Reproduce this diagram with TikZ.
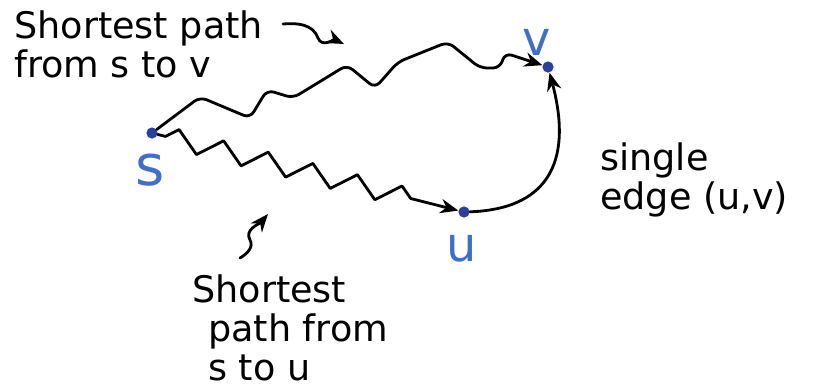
\documentclass[tikz,border=0pt]{standalone}
\usepackage{fontspec}
\setmainfont{DejaVu Sans}
\usepackage{tikz}
\usetikzlibrary{arrows.meta,decorations.pathmorphing}

\definecolor{dotblue}{HTML}{2B3F9C}
\definecolor{lblblue}{HTML}{3F6FC8}

\begin{document}
\begin{tikzpicture}[>={Stealth[length=4.5mm,width=3.6mm]},
  vtx/.style={circle,fill=dotblue,inner sep=0pt,minimum size=2.8mm},
  vlbl/.style={text=lblblue,inner sep=0pt,font=\fontsize{34}{34}\selectfont},
  note/.style={align=left,inner sep=0pt,anchor=north west,font=\fontsize{26}{28}\selectfont},
  pen/.style={line width=2pt,line cap=round,line join=round}]
\useasboundingbox (0,0) rectangle (20.35,-9.775);
% vertices and their letters
\node[vtx] (s_dot) at (3.8,-3.325) {};
\node[vtx] (v_dot) at (13.7,-1.675) {};
\node[vtx] (u_dot) at (11.6,-5.3) {};
\node[vlbl,font=\fontsize{40}{40}\selectfont] (s_lbl) at (3.75,-4.25) {s};
\node[vlbl] (v_lbl) at (13.42,-1.05) {v};
\node[vlbl] (u_lbl) at (11.55,-6.2) {u};
% notes
\node[note] (sv_note) at (0.35,-0.25) {Shortest path\\from s to v};
\node[note] (uv_note) at (15.0,-3.55) {single\\edge (u,v)};
\node[note] (su_note) at (4.8,-6.85) {Shortest\\\hspace{0.4cm}path from\\\hspace{0.4cm}s to u};
\coordinate (sv_tail) at (7.075,-0.6);
\coordinate (sv_head) at (8.6,-1.1);
\coordinate (su_tail) at (6.0,-6.45);
\coordinate (su_head) at (6.7,-5.35);
% paths
\draw[pen,->,rounded corners=5pt] (s_dot) -- (5.0,-2.425) -- (6.25,-2.95) -- (6.675,-2.25)
  -- (7.325,-2.45) -- (8.675,-1.625) -- (9.375,-2.2) -- (9.95,-1.55) -- (11.2,-1.05)
  -- (12.0,-1.7) -- (12.5,-1.7) -- (12.625,-1.325) -- (v_dot);
\draw[pen,->,decorate,decoration={zigzag,amplitude=2.5mm,segment length=1.15cm,pre length=2mm,post length=7mm}]
  (s_dot) -- (u_dot);
\draw[pen,->] (u_dot) to[out=2,in=-75,looseness=1.35] (v_dot);
% pointers to the paths
\draw[pen,->] (sv_tail) to[out=5,in=110] (7.95,-0.95) to[out=-70,in=155] (sv_head);
\draw[pen,->] (su_tail) to[out=30,in=-60] (6.25,-6.0) to[out=120,in=-130] (su_head);
\end{tikzpicture}
\end{document}
